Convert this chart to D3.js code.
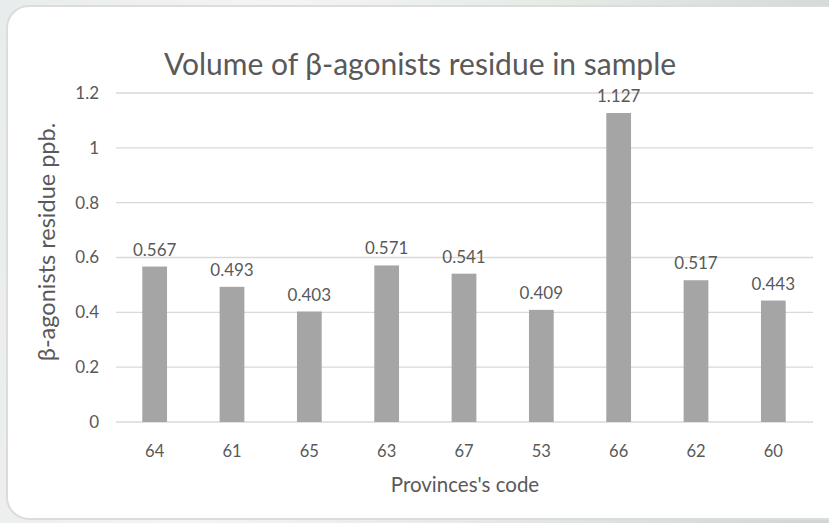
<!DOCTYPE html>
<html>
<head>
<meta charset="utf-8">
<script src="https://cdn.jsdelivr.net/npm/d3@7"></script>
<style>
  html, body { margin: 0; padding: 0; }
  body { width: 829px; height: 523px; overflow: hidden;
         background: linear-gradient(100deg, #e9ecec 0%, #f3f5f4 30%, #e6ebe6 60%, #cfd5d4 100%); }
  svg { display: block; }
  text { font-family: Lato, "Open Sans", sans-serif; fill: #595959; }
</style>
</head>
<body>
<svg id="chart" width="829" height="523"></svg>
<script>
const categories = ["64", "61", "65", "63", "67", "53", "66", "62", "60"];
const values = [0.567, 0.493, 0.403, 0.571, 0.541, 0.409, 1.127, 0.517, 0.443];
const yTicks = [0, 0.2, 0.4, 0.6, 0.8, 1, 1.2];
const titleText = "Volume of \u03B2-agonists residue in sample";
const xTitle = "Provinces's code";
const yTitle = "\u03B2-agonists residue ppb.";

const svg = d3.select("#chart");

// card
svg.append("rect")
  .attr("x", 7).attr("y", 6).attr("width", 850).attr("height", 513)
  .attr("rx", 22).attr("ry", 22)
  .attr("fill", "#ffffff").attr("stroke", "#dcdcdc").attr("stroke-width", 2);

const pLeft = 116, pRight = 812, pTop = 93, pBottom = 422;

const x = d3.scaleBand().domain(categories).range([pLeft, pRight]).paddingInner(0.68).paddingOuter(0.34);
const y = d3.scaleLinear().domain([0, 1.2]).range([pBottom, pTop]);

// gridlines
svg.append("g").selectAll("line").data(yTicks).join("line")
  .attr("x1", pLeft).attr("x2", pRight + 1)
  .attr("y1", d => y(d)).attr("y2", d => y(d))
  .attr("stroke", "#d9d9d9").attr("stroke-width", 1.3);

// y axis labels
const yAxis = d3.axisLeft(y).tickValues(yTicks).tickSize(0).tickPadding(17)
  .tickFormat(d => String(d));
const gy = svg.append("g").attr("transform", `translate(${pLeft},0)`).call(yAxis);
gy.select(".domain").remove();
gy.selectAll("text").style("font-size", "17px").style("font-family", "Lato, sans-serif").attr("fill", "#595959");

// x axis labels
const xAxis = d3.axisBottom(x).tickSize(0).tickPadding(23);
const gx = svg.append("g").attr("transform", `translate(0,${pBottom})`).call(xAxis);
gx.select(".domain").remove();
gx.selectAll("text").style("font-size", "16.5px").style("font-family", "Lato, sans-serif").attr("fill", "#595959");

// bars
svg.append("g").selectAll("rect").data(values).join("rect")
  .attr("x", (d, i) => x(categories[i]))
  .attr("width", x.bandwidth())
  .attr("y", d => y(d))
  .attr("height", d => y(0) - y(d))
  .attr("fill", "#a5a5a5");

// data labels
svg.append("g").selectAll("text").data(values).join("text")
  .attr("x", (d, i) => x(categories[i]) + x.bandwidth() / 2)
  .attr("y", d => y(d) - 11)
  .attr("text-anchor", "middle")
  .style("font-size", "17px")
  .text(d => String(d));

// title
svg.append("text")
  .attr("x", 420).attr("y", 75)
  .attr("text-anchor", "middle")
  .style("font-size", "30px")
  .text(titleText);

// x title
svg.append("text")
  .attr("x", 465).attr("y", 492)
  .attr("text-anchor", "middle")
  .style("font-size", "20.5px")
  .text(xTitle);

// y title
svg.append("text")
  .attr("transform", `translate(55, 242) rotate(-90)`)
  .attr("text-anchor", "middle")
  .style("font-size", "23.5px")
  .text(yTitle);
</script>
</body>
</html>
